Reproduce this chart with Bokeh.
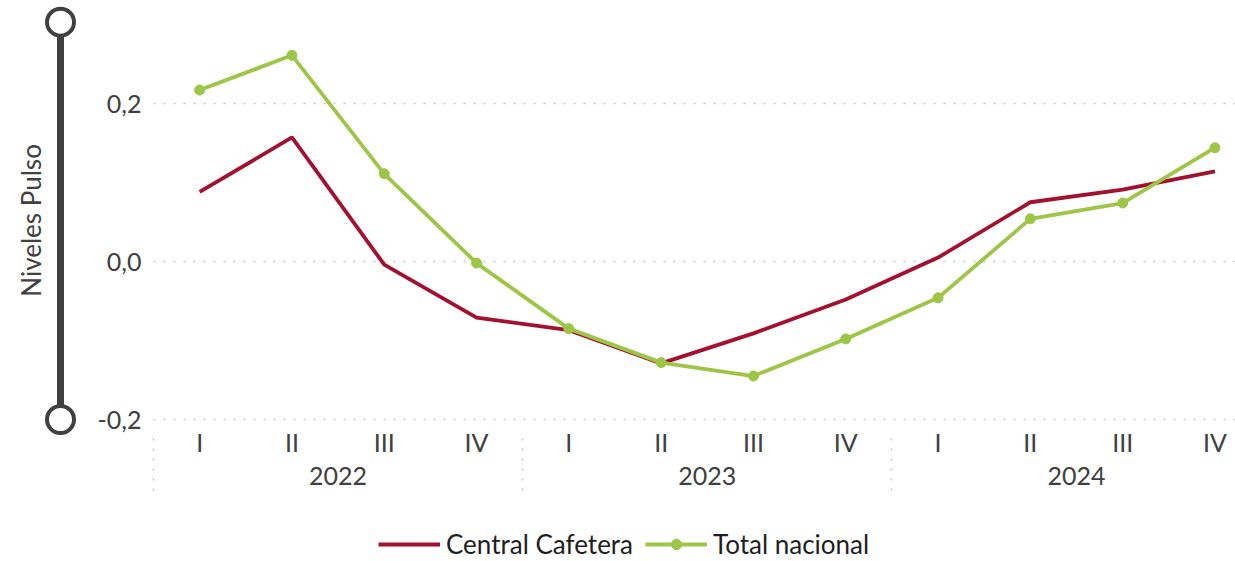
import math
from bokeh.plotting import figure
from bokeh.models import (Range1d, LinearAxis, FixedTicker, Grid, Legend, LegendItem)
from bokeh.layouts import row, column
from bokeh.embed import file_html
from bokeh.resources import INLINE
from bokeh.core.properties import value

# ---------------- data ----------------
years = ["2022", "2023", "2024"]
quarters = ["I", "II", "III", "IV"]
central_cafetera = [0.088, 0.157, -0.004, -0.071, -0.087, -0.129, -0.091, -0.048,
                    0.005, 0.075, 0.091, 0.114]
total_nacional = [0.217, 0.261, 0.111, -0.002, -0.085, -0.128, -0.145, -0.098,
                  -0.046, 0.054, 0.074, 0.144]
y_ticks = [-0.2, 0.0, 0.2]
y_tick_labels = ["-0,2", "0,0", "0,2"]
y_title = "Niveles Pulso"
series_names = ["Central Cafetera", "Total nacional"]
slider_min = -0.2
slider_max = 0.303

# ---------------- style ----------------
FONT = "Lato"
RED = "#A3112F"
GREEN = "#9DC546"
TXT = "#404040"
GRID = "#c6c6c6"

n = len(years) * len(quarters)
xs = [i + 0.5 for i in range(n)]
q_labels = [q for _ in years for q in quarters]
year_pos = [len(quarters) * (k + 0.5) for k in range(len(years))]
sep_pos = [len(quarters) * k for k in range(len(years))]

FRAME_H = 437
PX_PER_UNIT = 790.0
Y1 = 261 / PX_PER_UNIT
Y0 = Y1 - FRAME_H / PX_PER_UNIT
yr = Range1d(Y0, Y1)

# ---------------- main figure ----------------
p = figure(frame_width=1082, frame_height=FRAME_H,
           x_range=Range1d(0, 1082 / 92.3), y_range=yr,
           x_axis_type=None, y_axis_type=None,
           output_backend="svg", toolbar_location=None,
           min_border_left=60, min_border_right=0, min_border_top=0,
           min_border_bottom=57, outline_line_color=None,
           background_fill_color="white", border_fill_color="white")

yaxis = LinearAxis(ticker=FixedTicker(ticks=y_ticks),
                   major_label_overrides=dict(zip(y_ticks, y_tick_labels)),
                   axis_line_color=None, major_tick_line_color=None,
                   minor_tick_line_color=None, major_tick_out=0, major_tick_in=0,
                   major_label_standoff=12,
                   major_label_text_font=FONT, major_label_text_font_size="25px",
                   major_label_text_color=TXT)
p.add_layout(yaxis, "left")

p.add_layout(Grid(dimension=1, ticker=yaxis.ticker, grid_line_color=GRID,
                  grid_line_dash="2 8", grid_line_width=1.5))

# quarter labels + dotted group separators (minor ticks, label standoff compensated)
SEP_LEN = 63
qaxis = LinearAxis(ticker=FixedTicker(ticks=xs, minor_ticks=sep_pos),
                   major_label_overrides=dict(zip(xs, q_labels)),
                   axis_line_color=None, major_tick_line_color=None,
                   major_tick_out=0, major_tick_in=0,
                   minor_tick_out=SEP_LEN, minor_tick_in=0,
                   minor_tick_line_color=GRID, minor_tick_line_dash="2 8",
                   minor_tick_line_width=1.5,
                   major_label_standoff=-11 - SEP_LEN,
                   major_label_text_font=FONT, major_label_text_font_size="25px",
                   major_label_text_color=TXT)
p.add_layout(qaxis, "below")

# year labels
yraxis = LinearAxis(ticker=FixedTicker(ticks=year_pos),
                    major_label_overrides=dict(zip(year_pos, years)),
                    axis_line_color=None, major_tick_line_color=None,
                    minor_tick_line_color=None, major_tick_out=0, major_tick_in=0,
                    major_label_standoff=7,
                    major_label_text_font=FONT, major_label_text_font_size="25px",
                    major_label_text_color=TXT)
p.add_layout(yraxis, "below")

p.line(xs, central_cafetera, line_color=RED, line_width=3.8)
p.line(xs, total_nacional, line_color=GREEN, line_width=3.8)
p.scatter(xs, total_nacional, size=10, fill_color=GREEN, line_color=GREEN)

# ---------------- left decoration (axis title + slider) ----------------
q = figure(frame_width=93, frame_height=FRAME_H, x_range=Range1d(0, 93),
           y_range=yr, x_axis_type=None, y_axis_type=None,
           output_backend="svg", toolbar_location=None,
           min_border_left=0, min_border_right=0, min_border_top=0,
           min_border_bottom=57, outline_line_color=None)
q.grid.visible = False
q.segment(x0=[60], y0=[slider_min], x1=[60], y1=[slider_max],
          line_color="#404040", line_width=7)
q.scatter(x=[60, 60], y=[slider_min, slider_max], size=27,
          fill_color="white", line_color="#404040", line_width=4)
q.text(x=[30], y=[0.052], text=[y_title], angle=math.pi / 2,
       text_align="center", text_baseline="middle",
       text_font=value(FONT), text_font_size="26px", text_color=TXT)

# ---------------- legend strip ----------------
LEG_H = 66
lg = figure(width=1235, height=LEG_H, x_range=Range1d(0, 1235), y_range=Range1d(0, LEG_H),
            x_axis_type=None, y_axis_type=None,
            output_backend="svg", toolbar_location=None,
            min_border_left=0, min_border_right=0, min_border_top=0,
            min_border_bottom=0, outline_line_color=None)
lg.grid.visible = False
# legend-only renderers placed outside the visible range
l_red = lg.line(x=[-100, -99], y=[-100, -100], line_color=RED, line_width=3.8)
l_green = lg.line(x=[-100, -99], y=[-100, -100], line_color=GREEN, line_width=3.8)
m_green = lg.scatter(x=[-100], y=[-100], size=18, fill_color=GREEN, line_color=GREEN)
legend = Legend(items=[LegendItem(label=series_names[0], renderers=[l_red]),
                       LegendItem(label=series_names[1], renderers=[l_green, m_green])],
                orientation="horizontal", location=(378, 0),
                glyph_width=62, glyph_height=26, label_standoff=6, spacing=12,
                padding=0, margin=0, border_line_color=None,
                background_fill_alpha=0,
                label_text_font=FONT, label_text_font_size="26px",
                label_text_color="#1e1e1e")
lg.add_layout(legend)

layout = column(row(q, p), lg)
open("out.html", "w").write(file_html(layout, INLINE))
